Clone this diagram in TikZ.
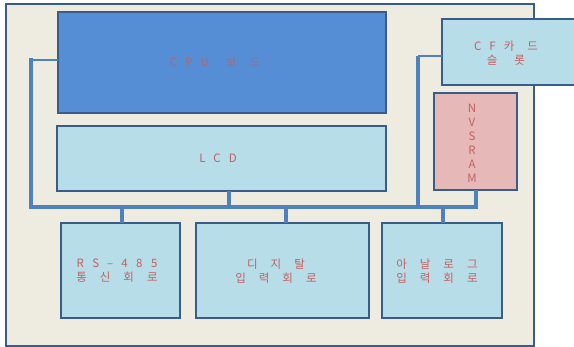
\documentclass[tikz,border=0pt]{standalone}
\usepackage{fontspec}
\usetikzlibrary{shadows}
\newfontfamily\krfont{Noto Sans CJK KR}
\newcommand\ga{\hspace{8pt}}
\newcommand\gk{\hspace{13pt}}
\definecolor{bgc}{HTML}{EEECE1}
\definecolor{bordc}{HTML}{385D8A}
\definecolor{busc}{HTML}{4F81BD}
\definecolor{cpuc}{HTML}{558ED5}
\definecolor{lblue}{HTML}{B7DDE8}
\definecolor{pinkc}{HTML}{E6B9B8}
\definecolor{txtc}{RGB}{196,96,96}
\tikzset{
  blk/.style={draw=bordc, line width=1.1pt, inner sep=0pt, outer sep=0pt,
    drop shadow={shadow xshift=1.2pt, shadow yshift=-1.2pt, opacity=1, fill=bordc}},
  lbl/.style={inner sep=0pt, font=\krfont\fontsize{11.5}{14}\selectfont, text=txtc, align=center},
  bus/.style={draw=busc, line width=3.5pt},
  thinbus/.style={draw=busc, line width=2.2pt},
}
\begin{document}
\begin{tikzpicture}[x=1pt,y=-1pt]
\useasboundingbox (0,0) rectangle (574,347);
% outer frame
\node[draw=bordc, fill=bgc, line width=1.4pt, minimum width=528pt, minimum height=342pt, inner sep=0pt,
  drop shadow={shadow xshift=1pt, shadow yshift=-1pt, opacity=1, fill=bordc}] (outer) at (270,175) {};
% blocks
\node[blk, fill=cpuc, minimum width=328pt, minimum height=101pt] (cpu) at (222,62.5) {};
\node[blk, fill=lblue, minimum width=329pt, minimum height=65pt] (lcd) at (221.5,158.5) {};
\node[blk, fill=lblue, minimum width=140pt, minimum height=66pt] (cf) at (512,52) {};
\node[blk, fill=pinkc, minimum width=83pt, minimum height=97pt] (nv) at (475.5,141.5) {};
\node[blk, fill=lblue, minimum width=119pt, minimum height=95pt] (rs) at (120.5,270.5) {};
\node[blk, fill=lblue, minimum width=173pt, minimum height=95pt] (dg) at (282.5,270.5) {};
\node[blk, fill=lblue, minimum width=120pt, minimum height=95pt] (an) at (442,270.5) {};
% labels
\node[lbl] (cput) at (215,62) {C\ga P\ga U\hspace{17pt}보\gk 드};
\node[lbl] (lcdt) at (218,158) {L\ga C\ga D};
\node[lbl] (cft) at (506,53) {C\ga F\ga 카\gk 드\\슬\hspace{17pt}롯};
\node[lbl] (nvt) at (472,143) {N\\V\\S\\R\\A\\M};
\node[lbl] (rst) at (117,271) {R\hspace{8.5pt}S\hspace{8pt}–\hspace{8pt}4\hspace{8.5pt}8\hspace{8.5pt}5\\통\gk 신\gk 회\gk 로};
\node[lbl] (dgt) at (276,271) {디\gk 지\gk 탈\\입\gk 력\gk 회\gk 로};
\node[lbl] (ant) at (437,271) {아\gk 날\gk 로\gk 그\\입\gk 력\gk 회\gk 로};
% bus coordinates
\coordinate (lt) at (31,60);
\coordinate (lb) at (31,207);
\coordinate (rt) at (418,56);
\coordinate (rb) at (418,207);
\coordinate (nb) at (476,207);
% bus lines
\draw[thinbus] (cpu.west |- lt) -- (lt);
\draw[thinbus] (cf.west |- rt) -- (rt);
\draw[bus, line cap=rect] (lt) -- (lb) -- (nb);
\draw[bus] (rt) -- (rb);
\draw[bus] (lcd.south -| 229,0) -- (229,207);
\draw[bus] (nv.south -| nb) -- (nb);
\draw[bus] (122,207) -- (rs.north -| 122,0);
\draw[bus] (286,207) -- (dg.north -| 286,0);
\draw[bus] (443,207) -- (an.north -| 443,0);
\end{tikzpicture}
\end{document}
